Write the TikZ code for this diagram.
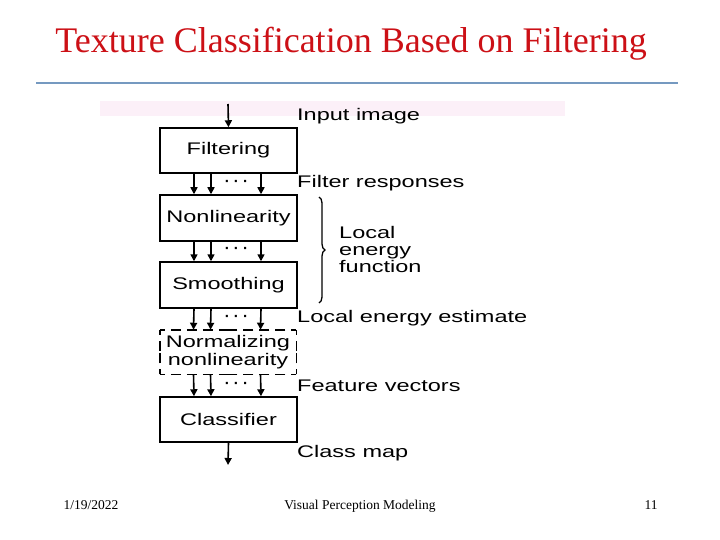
\documentclass[tikz,border=0pt]{standalone}
\usepackage{fontspec}
\setmainfont{Liberation Serif}
\newfontfamily\arialf{Liberation Sans}
\usetikzlibrary{arrows.meta,decorations.pathreplacing}
\definecolor{titlered}{HTML}{CC1016}
\definecolor{rulecol}{HTML}{7599C0}
\definecolor{bandpink}{HTML}{FCF0F8}
\newcommand\widetxt[1]{\scalebox{1.4}[1]{#1}}
\begin{document}
\begin{tikzpicture}[x=1pt,y=-1pt,
  stage/.style={draw,line width=1.5pt,minimum width=137pt,minimum height=45pt,inner sep=0pt,
     font=\arialf\fontsize{16.8}{17}\selectfont},
  lab/.style={anchor=base west,inner sep=0pt,font=\arialf\fontsize{16.8}{17}\selectfont},
  arr/.style={line width=1.6pt,-{Triangle[length=7pt,width=7pt]}},
  dashedge/.style={line width=1.5pt,dash pattern=on 10pt off 6pt,dash phase=5pt},
  dotsn/.style={inner sep=0pt,font=\arialf\bfseries\fontsize{15}{15}\selectfont}]
\useasboundingbox (0,0) rectangle (720,540);
% title
\node[font=\fontsize{36}{38}\selectfont,text=titlered,anchor=base] (title) at (351,53) {Texture Classification Based on Filtering};
\draw[rulecol,line width=2pt] (36,83) -- (678,83);
\fill[bandpink] (100,101) rectangle (565,116);
% boxes
\node[stage] (filt) at (228.5,150.5) {\widetxt{Filtering}};
\node[stage,minimum height=46pt] (nonl) at (228.5,218) {\widetxt{Nonlinearity}};
\node[stage,minimum height=46pt] (smoo) at (228.5,285) {\widetxt{Smoothing}};
\node[stage,draw=none,minimum width=135pt,minimum height=43pt,align=center,
      font=\arialf\fontsize{16.8}{18.5}\selectfont] (norm) at (228,352) {\widetxt{Normalizing}\\[-1pt]\widetxt{nonlinearity}};
\foreach \c/\m in {north west/north,north east/north,south west/south,south east/south,
                   north west/west,south west/west,north east/east,south east/east}{
  \draw[dashedge] (norm.\c) -- (norm.\m);
}
\node[stage] (clas) at (228.5,419.5) {\widetxt{Classifier}};
% input / output
\coordinate (inp) at (228,104);
\coordinate (outp) at (228,465);
\draw[arr] (inp) -- (filt.north);
\draw[arr] (clas.south) -- (outp);
% multiple arrows
\foreach \a/\b in {filt/nonl,nonl/smoo,smoo/norm,norm/clas}{
  \foreach \dx in {-34.5,-17.5,32.5}{
    \draw[arr] ([xshift=\dx pt]\a.south) -- ([xshift=\dx pt]\b.north);
  }
}
\node[dotsn] (d1) at (236.5,183) {· · ·};
\node[dotsn] (d2) at (236.5,250) {· · ·};
\node[dotsn] (d3) at (236.5,318) {· · ·};
\node[dotsn] (d4) at (236.5,385) {· · ·};
% labels
\node[lab] (l1) at (297,121) {\widetxt{Input image}};
\node[lab] (l2) at (297,188) {\widetxt{Filter responses}};
\node[lab] (l3) at (297,322) {\widetxt{Local energy estimate}};
\node[lab] (l4) at (297,391.5) {\widetxt{Feature vectors}};
\node[lab] (l5) at (297,457) {\widetxt{Class map}};
\node[lab] (f1) at (339,238.5) {\widetxt{Local}};
\node[lab] (f2) at (339,255) {\widetxt{energy}};
\node[lab] (f3) at (339,272) {\widetxt{function}};
\draw[line width=1.3pt,decorate,decoration={brace,amplitude=6pt}] (319,197) -- (319,303);
% footer
\node[font=\fontsize{13.5}{14}\selectfont,anchor=base west] (date) at (60,509) {1/19/2022};
\node[font=\fontsize{13.5}{14}\selectfont,anchor=base] (foot) at (360,509) {Visual Perception Modeling};
\node[font=\fontsize{13.5}{14}\selectfont,anchor=base] (page) at (651,509) {11};
\end{tikzpicture}
\end{document}
